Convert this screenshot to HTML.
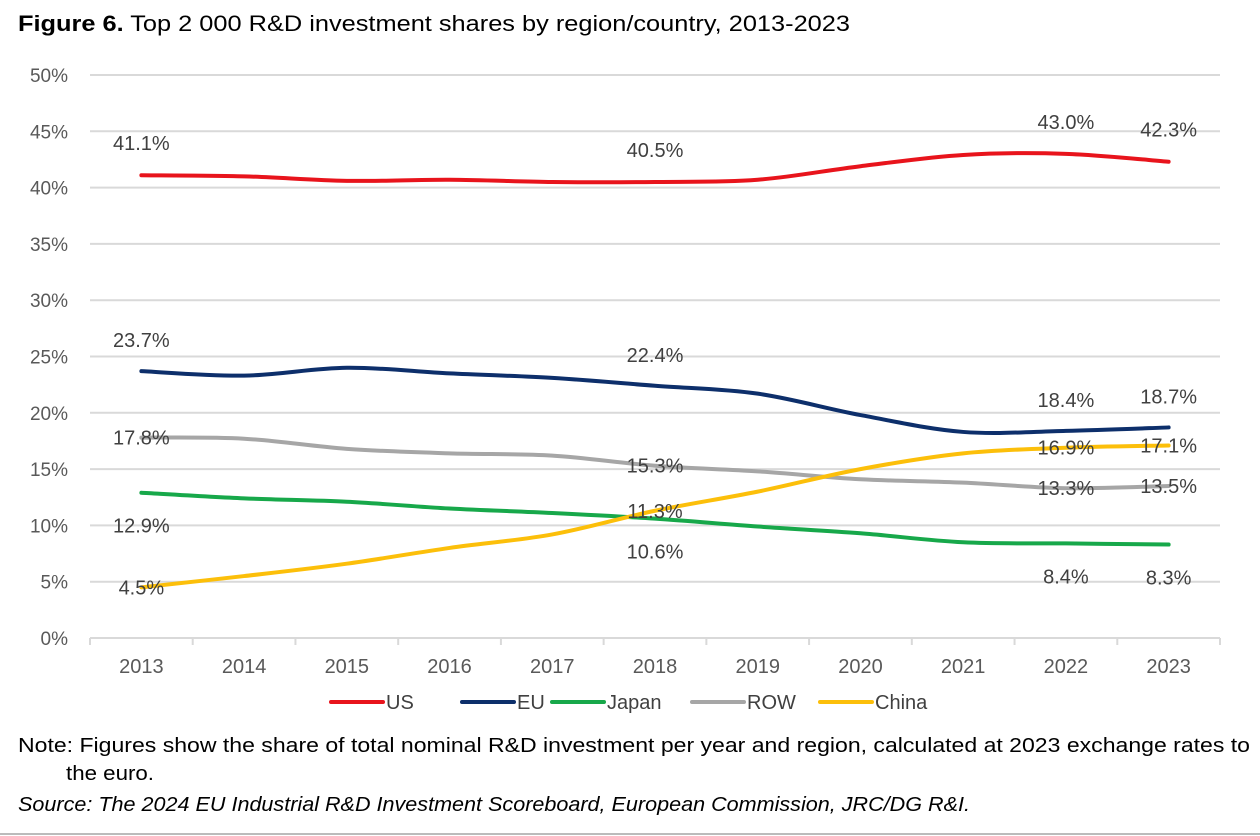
<!DOCTYPE html>
<html><head><meta charset="utf-8"><style>
body{margin:0;background:#fff;width:1260px;height:836px;overflow:hidden;font-family:"Liberation Sans",sans-serif;}
svg{position:absolute;left:0;top:0}
</style></head><body>
<svg id="chart" width="1260" height="836">
<text x="18" y="31" font-size="22" fill="#000" textLength="832" lengthAdjust="spacingAndGlyphs"><tspan font-weight="bold">Figure 6.</tspan> Top 2 000 R&amp;D investment shares by region/country, 2013-2023</text>
<g id="grid"></g><g id="series"></g><g id="labels"></g><g id="legend"></g>
<text x="18" y="752" font-size="20" fill="#000" textLength="1232" lengthAdjust="spacingAndGlyphs">Note: Figures show the share of total nominal R&amp;D investment per year and region, calculated at 2023 exchange rates to</text>
<text x="66" y="780" font-size="20" fill="#000" textLength="88" lengthAdjust="spacingAndGlyphs">the euro.</text>
<text x="18" y="811" font-size="20" font-style="italic" fill="#000" textLength="952" lengthAdjust="spacingAndGlyphs">Source: The 2024 EU Industrial R&amp;D Investment Scoreboard, European Commission, JRC/DG R&amp;I.</text>
<line x1="0" y1="834" x2="1260" y2="834" stroke="#bbb" stroke-width="2"/>
</svg>
<script>
const years=["2013","2014","2015","2016","2017","2018","2019","2020","2021","2022","2023"];
const yTicks=[0,5,10,15,20,25,30,35,40,45,50];
const usVals=[41.1,41.0,40.6,40.7,40.5,40.5,40.7,41.9,42.9,43.0,42.3];
const euVals=[23.7,23.3,24.0,23.5,23.1,22.4,21.7,19.8,18.3,18.4,18.7];
const japanVals=[12.9,12.4,12.1,11.5,11.1,10.6,9.9,9.3,8.5,8.4,8.3];
const rowVals=[17.8,17.7,16.8,16.4,16.2,15.3,14.8,14.1,13.8,13.3,13.5];
const chinaVals=[4.5,5.5,6.6,8.0,9.2,11.3,13.0,15.0,16.4,16.9,17.1];
const labelIdx=[0,5,9,10];
const NS="http://www.w3.org/2000/svg";
const L=90,R=1220,T=75,B=638;
const step=(R-L)/years.length;
const x=i=>L+step*(i+0.5);
const y=v=>B-(v/50)*(B-T);
function mk(tag,attrs,parent,text){const e=document.createElementNS(NS,tag);for(const k in attrs)e.setAttribute(k,attrs[k]);if(text!==undefined)e.textContent=text;parent.appendChild(e);return e;}
const grid=document.getElementById('grid');
yTicks.forEach(t=>{
  if(t>0){const g=mk('line',{x1:L,x2:R,y1:y(t),y2:y(t),stroke:'#d9d9d9','stroke-width':2},grid);
  
  }
  const tl=mk('text',{x:68,y:y(t)+7,'font-size':19,fill:'#595959','text-anchor':'end'},grid,t+'%');
  
  
});
const ax=mk('line',{x1:L,x2:R,y1:B,y2:B,stroke:'#d9d9d9','stroke-width':2},grid);


for(let i=0;i<=years.length;i++){const tk=mk('line',{x1:L+step*i,x2:L+step*i,y1:B,y2:B+7,stroke:'#d9d9d9','stroke-width':2},grid);

}
years.forEach((yr,i)=>{const t=mk('text',{x:x(i),y:673,'font-size':20,fill:'#595959','text-anchor':'middle'},grid,yr);

});
function path(vals){
  const p=vals.map((v,i)=>[x(i),y(v)]);
  let d='M'+p[0][0]+','+p[0][1];
  for(let i=0;i<p.length-1;i++){
    const p0=p[i-1]||p[i],p1=p[i],p2=p[i+1],p3=p[i+2]||p2;
    const c1=[p1[0]+(p2[0]-p0[0])/6,p1[1]+(p2[1]-p0[1])/6];
    const c2=[p2[0]-(p3[0]-p1[0])/6,p2[1]-(p3[1]-p1[1])/6];
    d+=` C${c1[0]},${c1[1]} ${c2[0]},${c2[1]} ${p2[0]},${p2[1]}`;
  }
  return d;
}
const series=[
 {name:'US',vals:usVals,color:'#e8141c',off:-32},
 {name:'EU',vals:euVals,color:'#0d2f6b',off:-31},
 {name:'Japan',vals:japanVals,color:'#17a84a',off:33},
 {name:'ROW',vals:rowVals,color:'#a6a6a6',off:0},
 {name:'China',vals:chinaVals,color:'#fcbf0a',off:0}
];
const sg=document.getElementById('series'),lg=document.getElementById('labels');
series.forEach(s=>{
  const p=mk('path',{d:path(s.vals),fill:'none',stroke:s.color,'stroke-width':4,'stroke-linecap':'round'},sg);
  
  
  labelIdx.forEach(i=>{
    const t=mk('text',{x:x(i),y:y(s.vals[i])+s.off+7,'font-size':20,fill:'#404040','text-anchor':'middle'},lg,s.vals[i].toFixed(1)+'%');
    
    
  });
});
const legX=[331,462,552,692,820];
const leg=document.getElementById('legend');
series.forEach((s,i)=>{
  const g=mk('g',{},leg);
  
  
  mk('line',{x1:legX[i],x2:legX[i]+52,y1:702,y2:702,stroke:s.color,'stroke-width':4,'stroke-linecap':'round'},g);
  mk('text',{x:legX[i]+55,y:709,'font-size':20,fill:'#404040'},g,s.name);
});
</script>
</body></html>
